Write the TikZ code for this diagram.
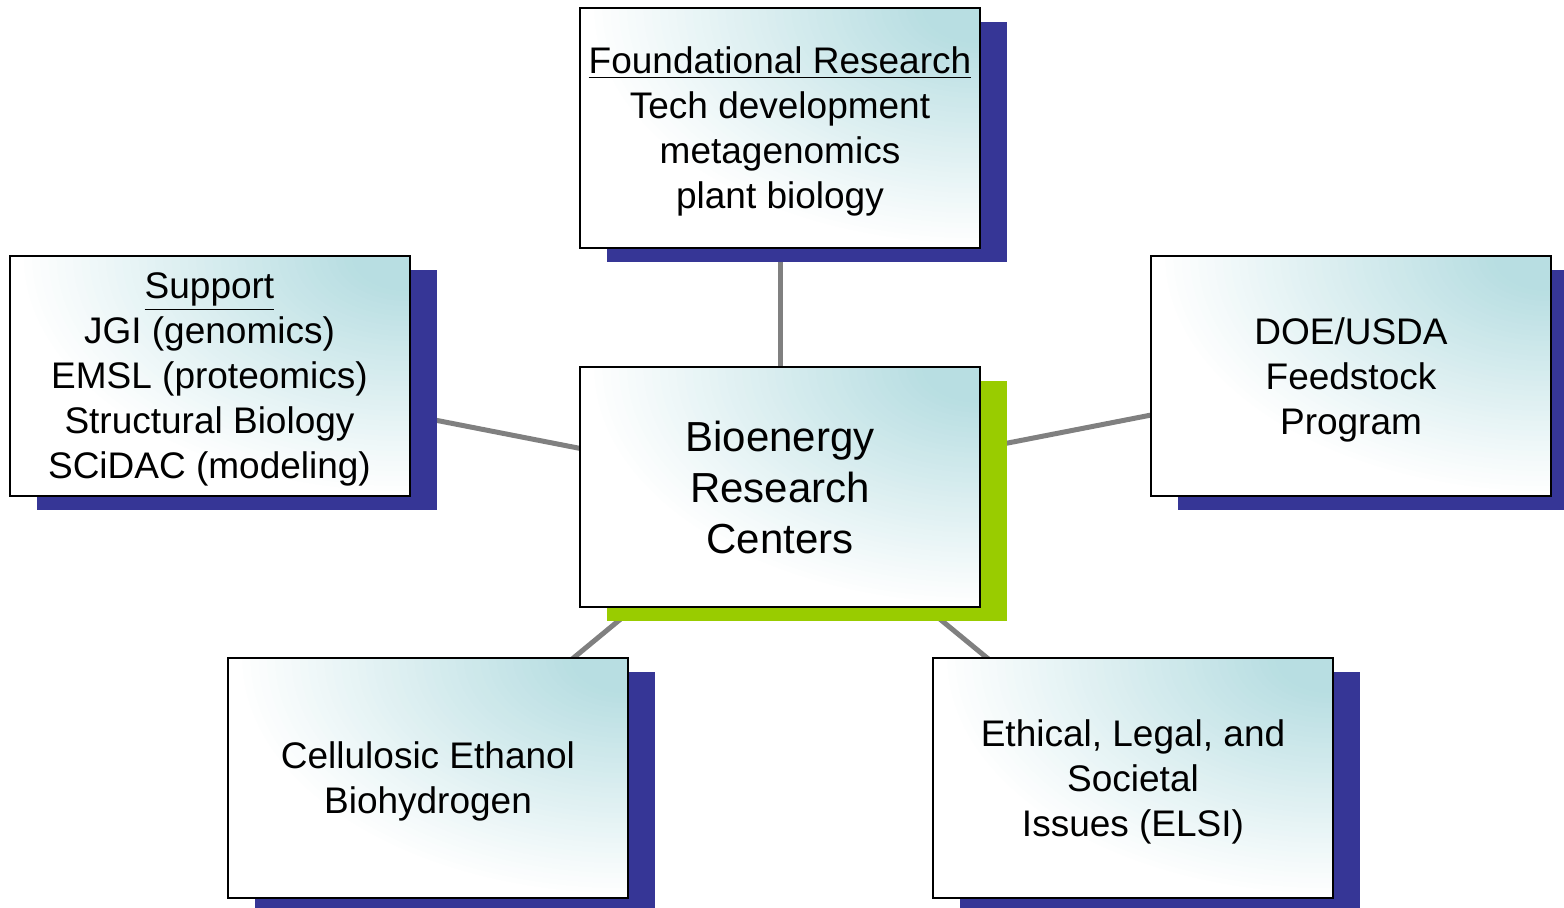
\documentclass[tikz,border=0pt]{standalone}
\usepackage{fontspec}
\setmainfont{Liberation Sans}
\usetikzlibrary{shadows,backgrounds}
\definecolor{tealc}{RGB}{184,222,226}
\definecolor{shadowblue}{RGB}{54,54,150}
\definecolor{shadowgreen}{RGB}{153,204,0}
\definecolor{linegray}{RGB}{128,128,128}
\tikzset{
  box/.style={draw=black, line width=1pt, fill=white,
    path picture={
      \foreach \i in {48,47,...,1}{
        \pgfmathsetmacro{\p}{min(100,100*(1-\i/48)/0.85)}
        \fill[tealc!\p!white] (path picture bounding box.north east) ellipse [x radius=\i*4.1pt, y radius=\i*2.5pt];
      }
    },
    minimum width=200pt, minimum height=120pt, inner sep=0pt, align=center, text depth=-2pt,
    font=\fontsize{18.5}{22.5}\selectfont},
  blueshadow/.style={general shadow={fill=shadowblue, shadow xshift=13.5pt, shadow yshift=-7pt}},
  greenshadow/.style={general shadow={fill=shadowgreen, shadow xshift=13.5pt, shadow yshift=-7pt}},
  link/.style={draw=linegray, line width=2.5pt}
}
\begin{document}
\begin{tikzpicture}[x=0.5pt,y=-0.5pt]
\useasboundingbox (0,0) rectangle (1564,908);
\node[box, blueshadow] (found) at (780,128) {\underline{Foundational Research}\\Tech development\\metagenomics\\plant biology};
\node[box, blueshadow] (supp) at (209.5,376) {\underline{Support}\\JGI (genomics)\\EMSL (proteomics)\\Structural Biology\\SCiDAC (modeling)};
\node[box, greenshadow, font=\fontsize{21}{25.5}\selectfont, text depth=0pt] (brc) at (780,487.5) {Bioenergy\hspace{6pt}\\Research\\Centers};
\node[box, blueshadow] (doe) at (1351,376) {DOE/USDA\\Feedstock\\Program};
\node[box, blueshadow] (cell) at (428,778) {Cellulosic Ethanol\\Biohydrogen};
\node[box, blueshadow] (elsi) at (1133,778) {Ethical, Legal, and\\Societal\\Issues (ELSI)};
\begin{scope}[on background layer]
\draw[link] (brc.center) -- (found.center);
\draw[link] (brc.center) -- (supp.center);
\draw[link] (brc.center) -- (doe.center);
\draw[link] (brc.center) -- (cell.center);
\draw[link] (brc.center) -- (elsi.center);
\end{scope}
\end{tikzpicture}
\end{document}
